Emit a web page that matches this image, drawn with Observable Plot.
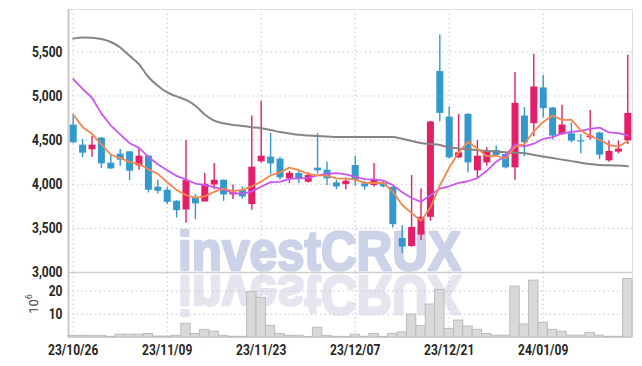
<!DOCTYPE html>
<html><head><meta charset="utf-8">
<script src="https://cdn.jsdelivr.net/npm/d3@7"></script>
<script src="https://cdn.jsdelivr.net/npm/@observablehq/plot@0.6"></script>
<style>
body{margin:0;background:#fff;}
#wrap{position:relative;width:642px;height:366px;overflow:hidden;}
#wrap svg{position:absolute;left:0;overflow:visible;background:transparent;}
</style></head><body><div id="wrap"></div>
<script>
const dates = ["23/10/26","23/10/27","23/10/30","23/10/31","23/11/01","23/11/02","23/11/03","23/11/06","23/11/07","23/11/08",
"23/11/09","23/11/10","23/11/13","23/11/14","23/11/15","23/11/16","23/11/17","23/11/20","23/11/21","23/11/22",
"23/11/23","23/11/24","23/11/27","23/11/28","23/11/29","23/11/30","23/12/01","23/12/04","23/12/05","23/12/06",
"23/12/07","23/12/08","23/12/11","23/12/12","23/12/13","23/12/14","23/12/15","23/12/18","23/12/19","23/12/20",
"23/12/21","23/12/22","23/12/26","23/12/27","23/12/28","24/01/02","24/01/03","24/01/04","24/01/05","24/01/08",
"24/01/09","24/01/10","24/01/11","24/01/12","24/01/15","24/01/16","24/01/17","24/01/18","24/01/19","24/01/22"];
const open  = [4670,4443,4390,4523,4239,4341,4367,4208,4318,3966, 3932,3807,3708,3852,3799,3992,4045,3879,3928,3769,
4254,4307,4284,4061,4121,4023,4182,4159,4015,3996, 4212,4004,3985,4008,3966,3386,3295,3424,3625,5277,
4761,4299,4792,4152,4242,4383,4337,4186,4773,4686, 5091,4864,4561,4572,4492,4527,4580,4265,4364,4492];
const high  = [4790,4508,4545,4530,4337,4394,4371,4409,4322,4045, 3966,3815,4496,3883,4121,4235,4050,3992,3970,4773,
4939,4576,4307,4144,4144,4129,4576,4250,4045,4072, 4318,4034,4235,4034,3970,3530,4099,3947,4710,5690,
4875,4792,4800,4496,4413,4432,4345,5265,4867,5474, 5235,4870,4894,4697,4564,4837,4591,4489,4489,5462];
const low   = [4460,4299,4307,4178,4167,4205,4042,4159,3902,3890, 3770,3617,3561,3598,3799,3939,3807,3826,3830,3705,
4242,4110,4049,4008,4008,4015,4117,3985,3939,3939, 3977,3932,3970,3958,3504,3212,3285,3364,3580,4708,
4290,4290,4129,4072,4205,4311,4174,4045,4311,4538, 4754,4500,4555,4470,4345,4500,4280,4250,4345,4451];
const close = [4470,4352,4443,4231,4174,4273,4148,4318,3932,3920, 3795,3701,4042,3777,4000,4045,3879,3902,3856,4193,
4318,4231,4072,4125,4053,4099,4152,4061,3970,4034, 4045,3970,4053,3970,3542,3288,3511,3625,4705,4803,
4299,4356,4242,4318,4375,4326,4186,4917,4470,5102, 4856,4546,4671,4489,4478,4546,4330,4371,4398,4803];
const volume = [0.7,0.7,0.7,0.7,0.3,1.2,1.2,1.2,1.5,0.4, 0.4,0.7,5.9,1.5,3.3,2.5,0.7,0.3,0.3,19.5,
17.1,5.0,1.5,0.7,0.7,0.2,4.2,0.7,0.3,0.2, 1.2,0.3,1.5,0.3,1.5,2.2,9.9,5.0,14.2,20.5,
3.7,7.3,4.7,3.3,1.5,0.8,0.8,21.9,5.6,24.5, 6.3,3.3,2.5,0.8,0.8,2.0,0.8,0.3,0.3,25.2];
const ma5  = [4791,4647,4571,4451,4334,4295,4254,4229,4169,4118, 4023,3933,3878,3847,3863,3913,3949,3921,3936,3975,
4030,4100,4134,4188,4160,4116,4100,4098,4067,4063, 4052,4016,4014,4014,3916,3765,3673,3587,3734,3986,
4189,4358,4481,4404,4318,4323,4289,4424,4455,4600, 4706,4778,4729,4733,4609,4547,4504,4444,4426,4490];
const ma10 = [5190,5080,4980,4800,4665,4564,4465,4412,4310,4226, 4159,4094,4053,4008,3991,3968,3941,3899,3892,3919,
3971,4024,4027,4062,4067,4073,4100,4116,4127,4112, 4084,4058,4056,4041,3990,3909,3844,3801,3874,3951,
3977,4015,4034,4069,4152,4256,4324,4453,4429,4459, 4515,4534,4577,4594,4605,4627,4641,4587,4579,4550];
const ma60 = [5650,5662,5660,5645,5612,5550,5455,5360,5215,5115, 5040,4995,4955,4890,4790,4720,4690,4672,4660,4647,
4635,4615,4592,4575,4560,4552,4546,4542,4536,4534, 4534,4534,4535,4536,4535,4515,4490,4467,4455,4445,
4418,4405,4396,4387,4378,4370,4363,4358,4350,4332, 4315,4297,4279,4262,4243,4230,4218,4214,4212,4205];
const tickDates = ["23/10/26","23/11/09","23/11/23","23/12/07","23/12/21","24/01/09"];
const priceTicks = [3000,3500,4000,4500,5000,5500];
const volTicks = [10,20];

const UP = "#e31f6a", DOWN = "#3399cc";
const n = dates.length;
const rows = dates.map((date,i)=>({i,date,open:open[i],high:high[i],low:low[i],close:close[i],vol:volume[i],
  ma5:ma5[i],ma10:ma10[i],ma60:ma60[i],up:close[i]>=open[i]}));
const xTicks = tickDates.map(t=>dates.indexOf(t));
const xDomain = [-0.5, n-0.5];
const FONT = "Roboto,'Liberation Sans',sans-serif";
const grid = {stroke:"#c4c4dc", strokeOpacity:1, strokeDasharray:"1.5,3"};
const baseStyle = {fontFamily:FONT, fontSize:"15px", fontWeight:"bold", color:"#262626", background:"transparent", overflow:"visible"};
const wrap = document.getElementById("wrap");

// watermark layer (behind)
const wm = d3.select(wrap).append("svg").attr("width",642).attr("height",366).style("top","0px");
const wmFont = "'Liberation Sans',Arial,sans-serif";
wm.append("text").text("investCRUX").attr("x",178).attr("y",270)
  .attr("textLength",283).attr("lengthAdjust","spacingAndGlyphs")
  .attr("font-family",wmFont).attr("font-weight","bold").attr("font-size",56)
  .attr("fill","#ccd3e8").attr("stroke","#ccd3e8").attr("stroke-width",2.6).attr("stroke-linejoin","round");
wm.append("text").text("investCRUX").attr("x",178).attr("y",270)
  .attr("transform","translate(0,546) scale(1,-1)")
  .attr("textLength",283).attr("lengthAdjust","spacingAndGlyphs")
  .attr("font-family",wmFont).attr("font-weight","bold").attr("font-size",56)
  .attr("fill","#e5e5ef").attr("stroke","#e5e5ef").attr("stroke-width",2.6).attr("stroke-linejoin","round");
const lab = wm.append("text").attr("transform","translate(38,304) rotate(-90)").attr("text-anchor","middle")
  .attr("font-family","Roboto,sans-serif").attr("font-size",13).attr("fill","#444");
lab.append("tspan").text("10");
lab.append("tspan").text("6").attr("font-size",9).attr("dy",-6);

const main = Plot.plot({
  width:642, height:273, marginTop:9, marginBottom:1, marginLeft:68, marginRight:10,
  style: baseStyle,
  x:{domain:xDomain, axis:null},
  y:{domain:[3000,5980], axis:null},
  marks:[
    Plot.gridY(priceTicks.slice(1), grid),
    Plot.gridX(xTicks, grid),
    Plot.frame({stroke:"#dedede"}),
    Plot.ruleY([priceTicks[0]], {stroke:"#cfcfcf", strokeWidth:1.5}),
    Plot.ruleX([xDomain[0]], {stroke:"#cacaca", strokeWidth:2}),
    Plot.axisY(priceTicks, {tickSize:0, tickPadding:6, tickFormat:d3.format(","), label:null}),
    Plot.ruleX(rows, {x:"i", y1:"low", y2:"high", stroke:d=>d.up?UP:DOWN, strokeWidth:1.4}),
    Plot.ruleX(rows, {x:"i", y1:"open", y2:"close", stroke:d=>d.up?UP:DOWN, strokeWidth:7}),
    Plot.line(rows, {x:"i", y:"ma60", stroke:"#858585", strokeWidth:2, curve:"monotone-x"}),
    Plot.line(rows, {x:"i", y:"ma10", stroke:"#cc55ee", strokeWidth:1.8}),
    Plot.line(rows, {x:"i", y:"ma5", stroke:"#f0884e", strokeWidth:1.8})
  ]
});
main.style.top = "0px";
wrap.appendChild(main);

const vol = Plot.plot({
  width:642, height:94, marginTop:0, marginBottom:29, marginLeft:68, marginRight:10,
  style: baseStyle,
  x:{domain:xDomain, axis:null},
  y:{domain:[0,28], axis:null},
  marks:[
    Plot.gridY(volTicks, grid),
    Plot.gridX(xTicks, grid),
    Plot.ruleX([xDomain[0]], {stroke:"#cacaca", strokeWidth:2}),
    Plot.ruleX([xDomain[1]], {stroke:"#dedede"}),
    Plot.rectY(rows, {x1:d=>d.i-0.5, x2:d=>d.i+0.5, y:"vol", fill:"#d9d9d9", stroke:"#bcbcbc", strokeWidth:1}),
    Plot.ruleY([0], {stroke:"#cfcfcf"}),
    Plot.axisY(volTicks, {tickSize:0, tickPadding:6, label:null}),
    Plot.axisX(xTicks, {tickSize:0, tickPadding:7, tickFormat:i=>dates[i], label:null})
  ]
});
vol.style.top = "272px";
wrap.appendChild(vol);

// condense the axis labels horizontally, like the reference's narrow bold face
for (const svg of [main, vol]) {
  svg.querySelectorAll("text").forEach(el => {
    const w = el.getComputedTextLength();
    if (w > 0) { el.setAttribute("textLength", (w*0.8).toFixed(1)); el.setAttribute("lengthAdjust","spacingAndGlyphs"); }
  });
}
</script></body></html>
